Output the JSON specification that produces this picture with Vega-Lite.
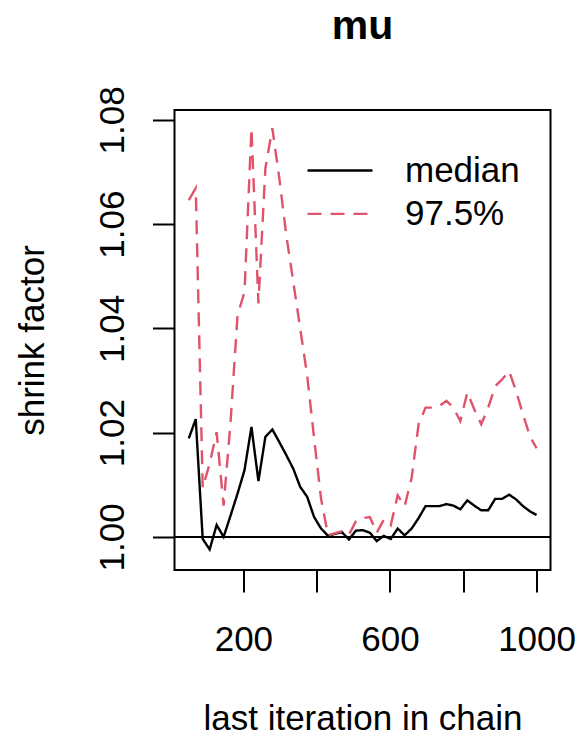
{
  "$schema": "https://vega.github.io/schema/vega-lite/v6.json",
  "width": 376,
  "height": 460,
  "autosize": {"type": "none"},
  "padding": {"left": 174.5, "top": 110, "right": 28.5, "bottom": 168},
  "background": "white",
  "title": {"text": "mu", "fontSize": 41, "font": "Liberation Sans", "fontWeight": "bold", "color": "black", "anchor": "middle", "frame": "group", "baseline": "alphabetic", "offset": 6},
  "config": {
    "view": {"stroke": "black", "strokeWidth": 2},
    "axis": {"grid": false, "domain": false, "tickSize": 22, "tickWidth": 2, "tickColor": "black", "labelFont": "Liberation Sans", "labelFontSize": 35, "labelColor": "black", "labelFlush": false, "labelOverlap": false, "titleFont": "Liberation Sans", "titleFontSize": 35, "titleFontWeight": "normal", "titleColor": "black"},
    "legend": {"orient": "none", "legendX": 148, "legendY": 43, "padding": 0, "title": null, "labelFont": "Liberation Sans", "labelFontSize": 35, "labelColor": "black", "symbolType": "M-3,0L3,0", "symbolSize": 469, "symbolStrokeWidth": 2.4, "labelOffset": 47.5, "symbolOffset": 0, "rowPadding": 7.4, "labelLimit": 300}
  },
  "data": {"values": [
    {"iter": 51, "series": "median", "value": 1.0189}, {"iter": 70, "series": "median", "value": 1.0226}, {"iter": 89, "series": "median", "value": 0.9996}, {"iter": 108, "series": "median", "value": 0.9976}, {"iter": 127, "series": "median", "value": 1.0023}, {"iter": 146, "series": "median", "value": 1.0000}, {"iter": 165, "series": "median", "value": 1.0041}, {"iter": 184, "series": "median", "value": 1.0083}, {"iter": 203, "series": "median", "value": 1.0128}, {"iter": 222, "series": "median", "value": 1.0211}, {"iter": 241, "series": "median", "value": 1.0107}, {"iter": 260, "series": "median", "value": 1.0192}, {"iter": 279, "series": "median", "value": 1.0206}, {"iter": 298, "series": "median", "value": 1.0182}, {"iter": 317, "series": "median", "value": 1.0157}, {"iter": 336, "series": "median", "value": 1.0131}, {"iter": 355, "series": "median", "value": 1.0096}, {"iter": 374, "series": "median", "value": 1.0077}, {"iter": 393, "series": "median", "value": 1.0038}, {"iter": 412, "series": "median", "value": 1.0016}, {"iter": 431, "series": "median", "value": 1.0002}, {"iter": 450, "series": "median", "value": 1.0006}, {"iter": 469, "series": "median", "value": 1.0009}, {"iter": 488, "series": "median", "value": 0.9995}, {"iter": 507, "series": "median", "value": 1.0012}, {"iter": 526, "series": "median", "value": 1.0013}, {"iter": 545, "series": "median", "value": 1.0008}, {"iter": 564, "series": "median", "value": 0.9992}, {"iter": 583, "series": "median", "value": 1.0002}, {"iter": 602, "series": "median", "value": 0.9996}, {"iter": 621, "series": "median", "value": 1.0016}, {"iter": 640, "series": "median", "value": 1.0003}, {"iter": 659, "series": "median", "value": 1.0016}, {"iter": 678, "series": "median", "value": 1.0036}, {"iter": 697, "series": "median", "value": 1.0059}, {"iter": 716, "series": "median", "value": 1.0059}, {"iter": 735, "series": "median", "value": 1.0059}, {"iter": 754, "series": "median", "value": 1.0063}, {"iter": 773, "series": "median", "value": 1.0060}, {"iter": 792, "series": "median", "value": 1.0053}, {"iter": 811, "series": "median", "value": 1.0070}, {"iter": 830, "series": "median", "value": 1.0060}, {"iter": 849, "series": "median", "value": 1.0051}, {"iter": 868, "series": "median", "value": 1.0051}, {"iter": 887, "series": "median", "value": 1.0073}, {"iter": 906, "series": "median", "value": 1.0073}, {"iter": 925, "series": "median", "value": 1.0081}, {"iter": 944, "series": "median", "value": 1.0072}, {"iter": 963, "series": "median", "value": 1.0059}, {"iter": 982, "series": "median", "value": 1.0049}, {"iter": 1000, "series": "median", "value": 1.0042},
    {"iter": 51, "series": "97.5%", "value": 1.0646}, {"iter": 70, "series": "97.5%", "value": 1.0669}, {"iter": 89, "series": "97.5%", "value": 1.0094}, {"iter": 108, "series": "97.5%", "value": 1.0141}, {"iter": 127, "series": "97.5%", "value": 1.0201}, {"iter": 146, "series": "97.5%", "value": 1.0060}, {"iter": 165, "series": "97.5%", "value": 1.0221}, {"iter": 184, "series": "97.5%", "value": 1.0425}, {"iter": 203, "series": "97.5%", "value": 1.0470}, {"iter": 222, "series": "97.5%", "value": 1.0784}, {"iter": 241, "series": "97.5%", "value": 1.0448}, {"iter": 260, "series": "97.5%", "value": 1.0707}, {"iter": 279, "series": "97.5%", "value": 1.0784}, {"iter": 298, "series": "97.5%", "value": 1.0688}, {"iter": 317, "series": "97.5%", "value": 1.0579}, {"iter": 336, "series": "97.5%", "value": 1.0490}, {"iter": 355, "series": "97.5%", "value": 1.0400}, {"iter": 374, "series": "97.5%", "value": 1.0310}, {"iter": 393, "series": "97.5%", "value": 1.0189}, {"iter": 412, "series": "97.5%", "value": 1.0073}, {"iter": 431, "series": "97.5%", "value": 1.0003}, {"iter": 450, "series": "97.5%", "value": 1.0007}, {"iter": 469, "series": "97.5%", "value": 1.0011}, {"iter": 488, "series": "97.5%", "value": 1.0004}, {"iter": 507, "series": "97.5%", "value": 1.0030}, {"iter": 526, "series": "97.5%", "value": 1.0036}, {"iter": 545, "series": "97.5%", "value": 1.0038}, {"iter": 564, "series": "97.5%", "value": 1.0008}, {"iter": 583, "series": "97.5%", "value": 1.0033}, {"iter": 602, "series": "97.5%", "value": 1.0022}, {"iter": 621, "series": "97.5%", "value": 1.0080}, {"iter": 640, "series": "97.5%", "value": 1.0059}, {"iter": 659, "series": "97.5%", "value": 1.0113}, {"iter": 678, "series": "97.5%", "value": 1.0216}, {"iter": 697, "series": "97.5%", "value": 1.0248}, {"iter": 716, "series": "97.5%", "value": 1.0248}, {"iter": 735, "series": "97.5%", "value": 1.0251}, {"iter": 754, "series": "97.5%", "value": 1.0261}, {"iter": 773, "series": "97.5%", "value": 1.0248}, {"iter": 792, "series": "97.5%", "value": 1.0222}, {"iter": 811, "series": "97.5%", "value": 1.0277}, {"iter": 830, "series": "97.5%", "value": 1.0245}, {"iter": 849, "series": "97.5%", "value": 1.0216}, {"iter": 868, "series": "97.5%", "value": 1.0248}, {"iter": 887, "series": "97.5%", "value": 1.0289}, {"iter": 906, "series": "97.5%", "value": 1.0302}, {"iter": 925, "series": "97.5%", "value": 1.0318}, {"iter": 944, "series": "97.5%", "value": 1.0280}, {"iter": 963, "series": "97.5%", "value": 1.0235}, {"iter": 982, "series": "97.5%", "value": 1.0193}, {"iter": 1000, "series": "97.5%", "value": 1.0170}
  ]},
  "layer": [
    {
      "mark": {"type": "line", "strokeWidth": 2.4},
      "encoding": {
        "x": {"field": "iter", "type": "quantitative", "scale": {"domain": [12, 1038], "nice": false, "zero": false},
              "axis": {"values": [200, 400, 600, 800, 1000], "format": "d", "labelExpr": "datum.value == 400 || datum.value == 800 ? '' : datum.label", "title": "last iteration in chain", "labelPadding": 30, "titleX": 188, "titleY": 159, "titleBaseline": "alphabetic", "titleAlign": "center"}},
        "y": {"field": "value", "type": "quantitative", "scale": {"domain": [0.99365, 1.0819], "nice": false, "zero": false},
              "axis": {"values": [1.0, 1.02, 1.04, 1.06, 1.08], "format": ".2f", "title": "shrink factor", "labelAngle": -90, "labelAlign": "center", "labelBaseline": "alphabetic", "labelPadding": 29.5, "titleX": -131.5, "titleY": 230, "titleAngle": 270, "titleAlign": "center", "titleBaseline": "alphabetic"}},
        "color": {"field": "series", "type": "nominal", "scale": {"domain": ["median", "97.5%"], "range": ["black", "#DF536B"]}},
        "strokeDash": {"field": "series", "type": "nominal", "scale": {"domain": ["median", "97.5%"], "range": [[1, 0], [14, 9]]}}
      }
    },
    {
      "mark": {"type": "rule", "color": "black", "strokeWidth": 2},
      "encoding": {"y": {"datum": 1}}
    }
  ]
}
